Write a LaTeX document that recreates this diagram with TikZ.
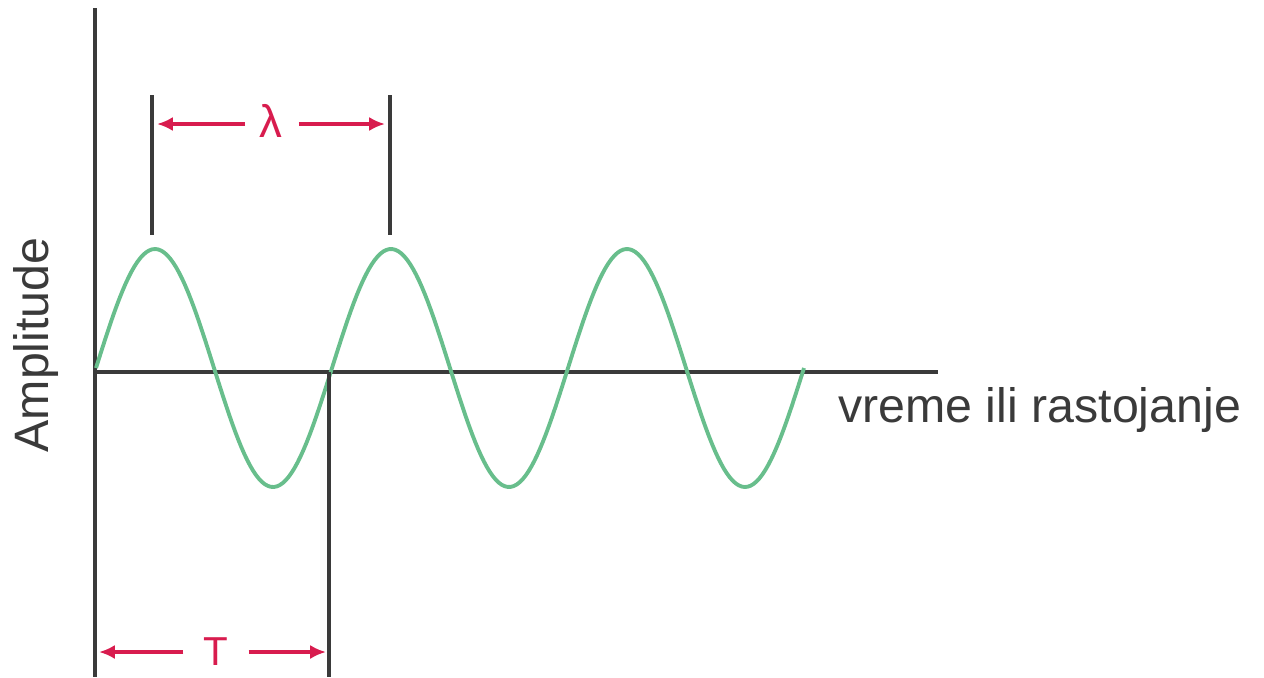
\documentclass[tikz,border=0pt]{standalone}
\usepackage{fontspec}
\setmainfont{Liberation Sans}
\usetikzlibrary{arrows.meta}
\definecolor{AxisColor}{RGB}{58,58,58}
\definecolor{WaveColor}{RGB}{104,190,140}
\definecolor{MarkColor}{RGB}{216,28,78}
\tikzset{
  axisline/.style={AxisColor, line width=2.2pt},
  tickline/.style={AxisColor, line width=1.8pt},
  wave/.style={WaveColor, line width=2.2pt},
  dimarrow/.style={MarkColor, line width=2.2pt, -{Latex[length=9pt,width=8pt]}},
  marklabel/.style={MarkColor, font=\fontsize{26}{28}\selectfont, inner sep=0pt},
  axislabel/.style={AxisColor, font=\fontsize{27.5}{30}\selectfont, inner sep=0pt}
}
\begin{document}
\begin{tikzpicture}[x=0.02cm, y=-0.02cm]
      \useasboundingbox (0,0) rectangle (1264,677);
      % axes
      \coordinate (ytop) at (95,8);
      \coordinate (ybot) at (95,677);
      \coordinate (orig) at (95,372);
      \coordinate (xend) at (938,372);
      \draw[axisline] (ytop)--(ybot);
      \draw[axisline] (orig)--(xend);
      \node[axislabel, rotate=90] (amp) at (36,345) {Amplitude};
      \node[axislabel, anchor=base west] (xlab) at (838,422) {vreme ili rastojanje};

      % wave
      \draw[wave] plot[domain=96:804, samples=240] (\x, {368 - 119*sin((\x-96)/236*360)});

      % wavelength marks
      \coordinate (ltop) at (152,95);
      \coordinate (lbot) at (152,235);
      \coordinate (rtop) at (390,95);
      \coordinate (rbot) at (390,235);
      \draw[tickline] (ltop)--(lbot);
      \draw[tickline] (rtop)--(rbot);
      \node[marklabel] (lam) at (271,121) {λ};
      \coordinate (lamL) at (157,124);
      \coordinate (lamR) at (385,124);
      \draw[dimarrow] (lam.west) ++(-14,3) -- (lamL);
      \draw[dimarrow] (lam.east) ++(16,3) -- (lamR);

      % period marks
      \coordinate (ptop) at (329,372);
      \coordinate (pbot) at (329,677);
      \draw[tickline] (ptop)--(pbot);
      \node[marklabel, font=\fontsize{23}{25}\selectfont] (per) at (216,652) {T};
      \coordinate (perL) at (99,652);
      \coordinate (perR) at (326,652);
      \draw[dimarrow] (per.west) ++(-20,0) -- (perL);
      \draw[dimarrow] (per.east) ++(20,0) -- (perR);
    \end{tikzpicture}
\end{document}
